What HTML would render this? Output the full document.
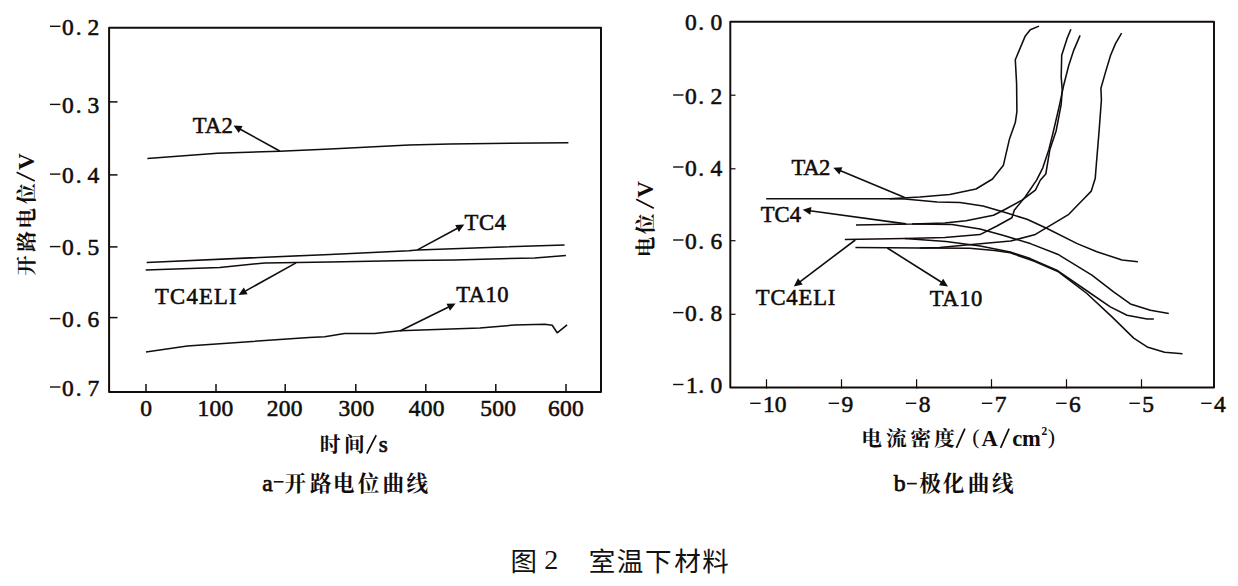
<!DOCTYPE html>
<html><head><meta charset="utf-8"><title>Figure 2</title>
<style>
html,body{margin:0;padding:0;background:#fff;}
svg{display:block;font-family:"Liberation Serif",serif;}
</style></head>
<body>
<svg width="1238" height="586" viewBox="0 0 1238 586">
<rect width="1238" height="586" fill="#fff"/>
<g fill="none" stroke="#120c0a" stroke-linecap="butt" stroke-linejoin="round">
<rect x="109.1" y="27.8" width="491.9" height="364.2" stroke-width="2.0"/>
<line x1="109.10" y1="101.90" x2="117.50" y2="101.90" stroke-width="1.5"/>
<line x1="109.10" y1="174.90" x2="117.50" y2="174.90" stroke-width="1.5"/>
<line x1="109.10" y1="246.90" x2="117.50" y2="246.90" stroke-width="1.5"/>
<line x1="109.10" y1="317.60" x2="117.50" y2="317.60" stroke-width="1.5"/>
<line x1="146.00" y1="384.00" x2="146.00" y2="392.00" stroke-width="1.5"/>
<line x1="216.00" y1="384.00" x2="216.00" y2="392.00" stroke-width="1.5"/>
<line x1="285.20" y1="384.00" x2="285.20" y2="392.00" stroke-width="1.5"/>
<line x1="355.80" y1="384.00" x2="355.80" y2="392.00" stroke-width="1.5"/>
<line x1="425.80" y1="384.00" x2="425.80" y2="392.00" stroke-width="1.5"/>
<line x1="495.80" y1="384.00" x2="495.80" y2="392.00" stroke-width="1.5"/>
<line x1="566.00" y1="384.00" x2="566.00" y2="392.00" stroke-width="1.5"/>
<line x1="50.00" y1="26.30" x2="60.40" y2="26.30" stroke-width="1.4"/>
<line x1="50.00" y1="104.40" x2="60.40" y2="104.40" stroke-width="1.4"/>
<line x1="50.00" y1="174.10" x2="60.40" y2="174.10" stroke-width="1.4"/>
<line x1="50.00" y1="246.60" x2="60.40" y2="246.60" stroke-width="1.4"/>
<line x1="50.00" y1="318.60" x2="60.40" y2="318.60" stroke-width="1.4"/>
<line x1="50.00" y1="387.00" x2="60.40" y2="387.00" stroke-width="1.4"/>
<polyline points="147.4,158.4 217.3,153.2 279.7,151.2 330.0,148.9 409.0,144.9 449.8,143.9 568.4,142.7" stroke-width="1.55"/>
<polyline points="146.7,262.4 330.0,254.4 409.0,250.7 417.4,249.9 564.6,244.9" stroke-width="1.55"/>
<polyline points="145.7,269.9 219.8,267.4 264.8,262.9 297.2,262.4 330.0,261.9 409.0,260.5 454.8,259.9 534.7,257.9 565.9,255.4" stroke-width="1.55"/>
<polyline points="146.0,351.9 187.3,346.1 309.0,337.4 324.7,336.8 344.6,333.5 374.7,333.5 399.8,330.7 479.8,328.0 514.7,325.0 544.7,324.3 552.2,325.3 557.2,332.8 567.1,324.8" stroke-width="1.55"/>
<line x1="279.70" y1="151.00" x2="239.80" y2="128.98" stroke-width="1.6"/>
<polygon points="233.5,125.5 242.6,126.0 238.8,132.9" fill="#120c0a" stroke="none"/>
<line x1="417.40" y1="249.90" x2="457.96" y2="228.02" stroke-width="1.6"/>
<polygon points="464.3,224.6 458.9,231.9 455.2,225.1" fill="#120c0a" stroke="none"/>
<line x1="296.00" y1="262.90" x2="244.79" y2="291.40" stroke-width="1.6"/>
<polygon points="238.5,294.9 243.8,287.5 247.6,294.3" fill="#120c0a" stroke="none"/>
<line x1="399.90" y1="331.00" x2="449.14" y2="306.78" stroke-width="1.6"/>
<polygon points="455.6,303.6 450.0,310.7 446.5,303.7" fill="#120c0a" stroke="none"/>
<rect x="730.3" y="21.7" width="483.7" height="365.8" stroke-width="1.95"/>
<line x1="730.30" y1="95.20" x2="735.50" y2="95.20" stroke-width="1.2"/>
<line x1="730.30" y1="168.80" x2="735.50" y2="168.80" stroke-width="1.2"/>
<line x1="730.30" y1="240.70" x2="735.50" y2="240.70" stroke-width="1.2"/>
<line x1="730.30" y1="314.30" x2="735.50" y2="314.30" stroke-width="1.2"/>
<line x1="766.50" y1="379.20" x2="766.50" y2="388.50" stroke-width="1.2"/>
<line x1="841.50" y1="379.20" x2="841.50" y2="388.50" stroke-width="1.2"/>
<line x1="916.60" y1="379.20" x2="916.60" y2="388.50" stroke-width="1.2"/>
<line x1="991.50" y1="379.20" x2="991.50" y2="388.50" stroke-width="1.2"/>
<line x1="1066.50" y1="379.20" x2="1066.50" y2="388.50" stroke-width="1.2"/>
<line x1="1141.50" y1="379.20" x2="1141.50" y2="388.50" stroke-width="1.2"/>
<line x1="673.10" y1="95.00" x2="683.50" y2="95.00" stroke-width="1.4"/>
<line x1="673.10" y1="167.00" x2="683.50" y2="167.00" stroke-width="1.4"/>
<line x1="673.10" y1="240.00" x2="683.50" y2="240.00" stroke-width="1.4"/>
<line x1="673.10" y1="312.60" x2="683.50" y2="312.60" stroke-width="1.4"/>
<line x1="673.10" y1="384.50" x2="683.50" y2="384.50" stroke-width="1.4"/>
<line x1="750.20" y1="403.30" x2="760.60" y2="403.30" stroke-width="1.4"/>
<line x1="828.70" y1="403.30" x2="839.10" y2="403.30" stroke-width="1.4"/>
<line x1="905.90" y1="403.30" x2="916.30" y2="403.30" stroke-width="1.4"/>
<line x1="981.90" y1="403.30" x2="992.30" y2="403.30" stroke-width="1.4"/>
<line x1="1056.20" y1="403.30" x2="1066.60" y2="403.30" stroke-width="1.4"/>
<line x1="1129.40" y1="403.30" x2="1139.80" y2="403.30" stroke-width="1.4"/>
<line x1="1201.20" y1="403.30" x2="1211.60" y2="403.30" stroke-width="1.4"/>
<polyline points="766.2,198.7 889.7,198.7 919.7,196.9 949.7,194.4 976.0,189.0 992.5,179.0 1003.4,165.2 1009.4,139.3 1015.3,122.6 1016.9,111.7 1016.6,83.6 1015.3,59.8 1025.3,35.9 1030.3,29.7 1039.0,26.1" stroke-width="1.55"/>
<polyline points="889.7,198.7 904.7,198.9 937.2,201.9 960.0,202.5 983.0,206.0 1005.3,212.6 1027.0,219.3 1047.1,228.5 1077.2,243.6 1096.9,251.7 1122.0,260.1 1137.9,261.7" stroke-width="1.55"/>
<polyline points="856.0,224.9 912.2,224.1 944.7,222.9 966.0,220.7 993.5,215.2 1005.3,209.3 1022.0,200.1 1035.4,190.1 1040.4,180.0 1045.8,174.0 1049.9,149.4 1056.1,131.0 1061.2,104.3 1062.2,90.0 1061.2,76.9 1061.7,55.2 1067.1,38.4 1070.9,29.2" stroke-width="1.55"/>
<polyline points="912.2,224.1 952.0,224.4 980.0,229.0 1003.7,235.5 1030.3,243.6 1057.6,254.2 1091.9,275.1 1113.6,291.8 1130.4,303.9 1150.4,310.2 1168.8,313.6" stroke-width="1.55"/>
<polyline points="844.8,239.5 904.7,238.6 944.7,237.4 980.0,234.6 996.9,226.0 1011.9,217.7 1014.4,210.1 1025.3,196.8 1036.6,180.1 1042.8,167.8 1048.9,149.4 1053.0,133.0 1059.2,106.4 1063.7,85.3 1068.8,65.2 1073.8,50.1 1080.1,35.4" stroke-width="1.55"/>
<polyline points="904.7,238.6 946.0,241.5 980.2,246.1 1010.3,251.9 1030.3,258.6 1056.8,270.1 1083.5,288.5 1110.3,306.9 1127.0,315.3 1147.1,318.9 1153.8,318.9" stroke-width="1.55"/>
<polyline points="855.4,247.4 919.7,247.9 939.7,247.4 971.8,244.6 1010.6,241.1 1035.4,234.4 1068.8,214.3 1084.6,198.0 1091.3,191.1 1095.2,178.6 1096.4,163.5 1098.9,133.4 1101.4,100.0 1100.9,88.3 1105.6,71.9 1110.6,55.2 1115.6,43.4 1121.6,33.1" stroke-width="1.55"/>
<polyline points="919.7,247.9 969.6,248.2 994.6,250.5 1010.3,252.8 1033.7,261.1 1058.5,271.8 1086.9,293.5 1112.0,316.9 1133.7,338.1 1147.9,347.3 1164.6,352.2 1182.5,353.8" stroke-width="1.55"/>
<line x1="904.70" y1="197.40" x2="839.95" y2="170.56" stroke-width="1.6"/>
<polygon points="833.3,167.8 842.4,167.3 839.4,174.5" fill="#120c0a" stroke="none"/>
<line x1="906.00" y1="223.90" x2="809.83" y2="210.68" stroke-width="1.6"/>
<polygon points="802.7,209.7 811.4,207.0 810.3,214.7" fill="#120c0a" stroke="none"/>
<line x1="855.30" y1="240.00" x2="799.55" y2="282.06" stroke-width="1.6"/>
<polygon points="793.8,286.4 798.0,278.3 802.7,284.6" fill="#120c0a" stroke="none"/>
<line x1="887.30" y1="248.00" x2="941.92" y2="282.55" stroke-width="1.6"/>
<polygon points="948.0,286.4 939.0,285.3 943.2,278.7" fill="#120c0a" stroke="none"/>
<line x1="16.60" y1="172.30" x2="34.80" y2="181.10" stroke-width="1.7"/>
<line x1="636.20" y1="199.20" x2="653.80" y2="208.30" stroke-width="1.7"/>
<line x1="366.80" y1="453.60" x2="376.20" y2="435.20" stroke-width="1.7"/>
<line x1="273.80" y1="481.80" x2="283.50" y2="481.80" stroke-width="1.6"/>
<line x1="956.40" y1="447.80" x2="964.90" y2="428.60" stroke-width="1.7"/>
<line x1="1000.60" y1="447.80" x2="1009.10" y2="428.60" stroke-width="1.7"/>
<line x1="907.00" y1="483.60" x2="916.80" y2="483.60" stroke-width="1.6"/>
</g>
<g fill="#120c0a" stroke="none">
<text x="61.90 75.85 87.60" y="34.90" font-size="23.5" font-weight="normal" stroke="#120c0a" stroke-width="0.55">0.2</text>
<text x="61.90 75.85 87.60" y="113.00" font-size="23.5" font-weight="normal" stroke="#120c0a" stroke-width="0.55">0.3</text>
<text x="61.90 75.85 87.60" y="182.70" font-size="23.5" font-weight="normal" stroke="#120c0a" stroke-width="0.55">0.4</text>
<text x="61.90 75.85 87.60" y="255.20" font-size="23.5" font-weight="normal" stroke="#120c0a" stroke-width="0.55">0.5</text>
<text x="61.90 75.85 87.60" y="327.20" font-size="23.5" font-weight="normal" stroke="#120c0a" stroke-width="0.55">0.6</text>
<text x="61.90 75.85 87.60" y="395.60" font-size="23.5" font-weight="normal" stroke="#120c0a" stroke-width="0.55">0.7</text>
<text x="140.32" y="416.40" font-size="23.5" font-weight="normal" letter-spacing="0.25" stroke="#120c0a" stroke-width="0.55">0</text>
<text x="197.54" y="416.40" font-size="23.5" font-weight="normal" letter-spacing="0.25" stroke="#120c0a" stroke-width="0.55">100</text>
<text x="266.86" y="416.40" font-size="23.5" font-weight="normal" letter-spacing="0.25" stroke="#120c0a" stroke-width="0.55">200</text>
<text x="338.41" y="416.40" font-size="23.5" font-weight="normal" letter-spacing="0.25" stroke="#120c0a" stroke-width="0.55">300</text>
<text x="408.84" y="416.40" font-size="23.5" font-weight="normal" letter-spacing="0.25" stroke="#120c0a" stroke-width="0.55">400</text>
<text x="480.19" y="416.40" font-size="23.5" font-weight="normal" letter-spacing="0.25" stroke="#120c0a" stroke-width="0.55">500</text>
<text x="548.07" y="416.40" font-size="23.5" font-weight="normal" letter-spacing="0.25" stroke="#120c0a" stroke-width="0.55">600</text>
<text x="192.69" y="133.00" font-size="22.6" font-weight="normal" letter-spacing="0.3" stroke="#120c0a" stroke-width="0.55">TA2</text>
<text x="464.39" y="229.80" font-size="22.6" font-weight="normal" letter-spacing="0.7" stroke="#120c0a" stroke-width="0.55">TC4</text>
<text x="154.99" y="304.30" font-size="22.6" font-weight="normal" letter-spacing="1.26" stroke="#120c0a" stroke-width="0.55">TC4ELI</text>
<text x="456.19" y="302.30" font-size="22.6" font-weight="normal" letter-spacing="0.5" stroke="#120c0a" stroke-width="0.55">TA10</text>
<text x="685.00 698.25 710.40" y="29.70" font-size="23.5" font-weight="normal" stroke="#120c0a" stroke-width="0.55">0.0</text>
<text x="685.00 698.25 710.40" y="103.60" font-size="23.5" font-weight="normal" stroke="#120c0a" stroke-width="0.55">0.2</text>
<text x="685.00 698.25 710.40" y="175.60" font-size="23.5" font-weight="normal" stroke="#120c0a" stroke-width="0.55">0.4</text>
<text x="685.00 698.25 710.40" y="248.60" font-size="23.5" font-weight="normal" stroke="#120c0a" stroke-width="0.55">0.6</text>
<text x="685.00 698.25 710.40" y="321.20" font-size="23.5" font-weight="normal" stroke="#120c0a" stroke-width="0.55">0.8</text>
<text x="685.93 698.25 710.40" y="393.10" font-size="23.5" font-weight="normal" stroke="#120c0a" stroke-width="0.55">1.0</text>
<text x="763.10 774.85" y="411.90" font-size="23.5" font-weight="normal" stroke="#120c0a" stroke-width="0.55">10</text>
<text x="841.60" y="411.90" font-size="23.5" font-weight="normal" stroke="#120c0a" stroke-width="0.55">9</text>
<text x="918.80" y="411.90" font-size="23.5" font-weight="normal" stroke="#120c0a" stroke-width="0.55">8</text>
<text x="994.80" y="411.90" font-size="23.5" font-weight="normal" stroke="#120c0a" stroke-width="0.55">7</text>
<text x="1069.10" y="411.90" font-size="23.5" font-weight="normal" stroke="#120c0a" stroke-width="0.55">6</text>
<text x="1142.30" y="411.90" font-size="23.5" font-weight="normal" stroke="#120c0a" stroke-width="0.55">5</text>
<text x="1214.10" y="411.90" font-size="23.5" font-weight="normal" stroke="#120c0a" stroke-width="0.55">4</text>
<text x="791.59" y="175.00" font-size="22.6" font-weight="normal" letter-spacing="-0.4" stroke="#120c0a" stroke-width="0.55">TA2</text>
<text x="760.79" y="222.40" font-size="22.6" font-weight="normal" stroke="#120c0a" stroke-width="0.55">TC4</text>
<text x="755.79" y="304.50" font-size="22.6" font-weight="normal" letter-spacing="0.85" stroke="#120c0a" stroke-width="0.55">TC4ELI</text>
<text x="929.79" y="306.10" font-size="22.6" font-weight="normal" letter-spacing="0.55" stroke="#120c0a" stroke-width="0.55">TA10</text>
<g transform="translate(34.2,0) rotate(-90)">
<text x="-275.88 -251.78 -228.72 -203.9" y="0" font-size="20.8" font-weight="bold" font-family="'Liberation Serif','Noto Serif CJK SC',serif">开路电位</text>
<text x="-169.95" y="0.00" font-size="23.4" font-weight="bold">V</text>
</g>
<g transform="translate(653.0,0) rotate(-90)">
<text x="-257.32 -234.3" y="0" font-size="20.8" font-weight="bold" font-family="'Liberation Serif','Noto Serif CJK SC',serif">电位</text>
<text x="-197.78" y="0.00" font-size="23.2" font-weight="bold">V</text>
</g>
<text x="319.63 344.05" y="452.3" font-size="20.8" font-weight="bold" font-family="'Liberation Serif','Noto Serif CJK SC',serif">时间</text>
<text x="378.73" y="452.20" font-size="23.2" font-weight="normal" stroke="#120c0a" stroke-width="0.7">s</text>
<text x="262.33" y="490.60" font-size="23.5" font-weight="normal" stroke="#120c0a" stroke-width="0.75">a</text>
<text x="284.61 310.07 333.1 357.71 382.52 406.4" y="490.8" font-size="21.6" font-weight="bold" font-family="'Liberation Serif','Noto Serif CJK SC',serif">开路电位曲线</text>
<text x="861.18 885.92 910.26 934.05" y="445.8" font-size="20.8" font-weight="bold" font-family="'Liberation Serif','Noto Serif CJK SC',serif">电流密度</text>
<text x="972.31" y="444.40" font-size="22" font-weight="normal">(</text>
<text x="981.50" y="445.90" font-size="22.5" font-weight="bold">A</text>
<text x="1012.15" y="445.90" font-size="22.5" font-weight="bold">c</text>
<text x="1022.12" y="445.90" font-size="22.5" font-weight="bold">m</text>
<text x="1041.43" y="435.00" font-size="11.5" font-weight="bold">2</text>
<text x="1047.77" y="444.40" font-size="22" font-weight="normal">)</text>
<text x="893.80" y="491.00" font-size="23.8" font-weight="normal" stroke="#120c0a" stroke-width="0.75">b</text>
<text x="919.18 942.63 967.82 992.05" y="491.2" font-size="21.6" font-weight="bold" font-family="'Liberation Serif','Noto Serif CJK SC',serif">极化曲线</text>
<text x="510.54" y="570.6" font-size="26.5" fill="#111" font-family="'Liberation Sans','Noto Sans CJK SC',sans-serif">图</text>
<text x="544.16" y="569.00" font-size="28" font-weight="normal" fill="#111">2</text>
<text x="588.7 616.75 645.04 674.15 702.29" y="570.6" font-size="26.5" fill="#111" font-family="'Liberation Sans','Noto Sans CJK SC',sans-serif">室温下材料</text>
</g>
</svg>
</body></html>
